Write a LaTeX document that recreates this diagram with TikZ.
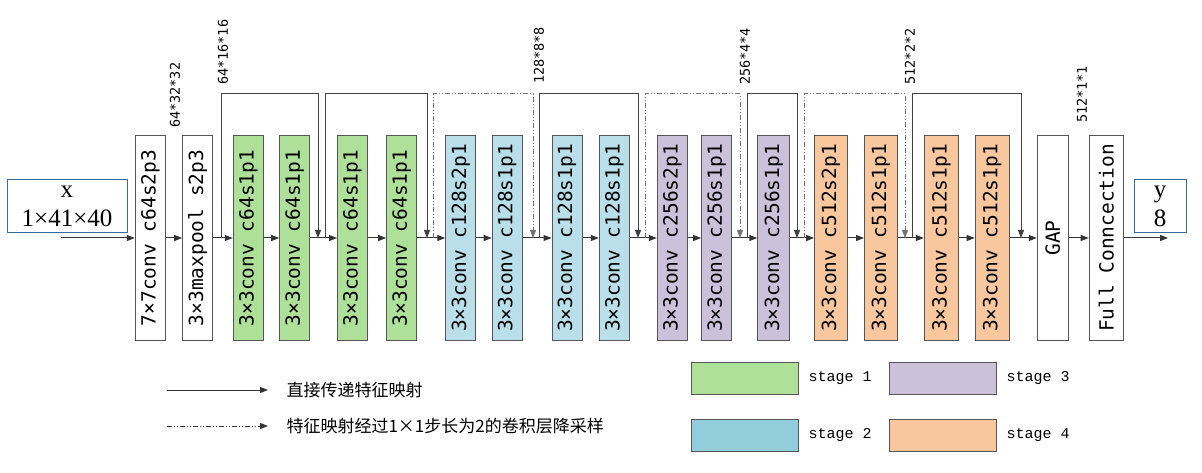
\documentclass[tikz,border=0pt]{standalone}
\usepackage{fontspec}
\setmainfont{Liberation Serif}
\newfontfamily\monobox{DejaVu Sans Mono}
\newfontfamily\monoleg{Liberation Mono}
\newfontfamily\cjk{Noto Sans CJK SC}
\usepackage{graphicx}
\usepackage{tikz}
\usetikzlibrary{calc,positioning,arrows.meta}
\usepackage{xcolor}
\definecolor{verde}{RGB}{174,224,154}
\definecolor{celeste}{RGB}{185,224,234}
\definecolor{celesteleg}{RGB}{146,205,220}
\definecolor{lila}{RGB}{204,193,219}
\definecolor{naranja}{RGB}{248,199,158}
\definecolor{borde}{RGB}{85,85,85}
\definecolor{azulio}{RGB}{58,105,155}
\newcommand{\vtxt}[1]{\rotatebox{90}{#1}}

\begin{document}
\begin{tikzpicture}[x=1pt,y=-1pt,
  capa/.style={draw=borde, line width=1pt, minimum width=30pt, minimum height=204pt,
    inner sep=0pt, font=\monobox\fontsize{19.5}{21}\selectfont},
  dim/.style={anchor=south, inner sep=0pt, font=\monobox\fontsize{13.5}{15}\selectfont},
  flecha/.style={-{Triangle[length=8pt,width=6pt]}, line width=1pt, black!80},
  atajo/.style={flecha, black!75},
  atajop/.style={flecha, black!55, dash pattern=on 5pt off 2pt on 1pt off 2pt on 1pt off 2pt},
  io/.style={draw=azulio, line width=1pt, inner sep=0pt, align=center,
    font=\fontsize{25}{29}\selectfont},
  caja/.style={draw=borde, line width=1pt, minimum width=107pt, minimum height=32pt}]
\useasboundingbox (0,0) rectangle (1202,473);

%====================================================
% ENTRADA Y SALIDA
%====================================================
\node[io, minimum width=120pt, minimum height=53pt] (entrada) at (67,206) {x\\1×41×40};
\node[io, minimum width=52pt, minimum height=53pt] (salida) at (1160,206) {y\\8};
\coordinate (xin) at (61,238);
\coordinate (yout) at (1168,238);

%====================================================
% CAPAS
%====================================================
\node[capa] (c7) at (150.3,238) {\vtxt{7×7conv c64s2p3}};
\node[capa] (mp) at (197.7,238) {\vtxt{3×3maxpool s2p3}};
\node[capa, fill=verde] (s1a) at (248.3,238) {\vtxt{3×3conv c64s1p1}};
\node[capa, fill=verde] (s1b) at (294.7,238) {\vtxt{3×3conv c64s1p1}};
\node[capa, fill=verde] (s1c) at (352.5,238) {\vtxt{3×3conv c64s1p1}};
\node[capa, fill=verde] (s1d) at (401.7,238) {\vtxt{3×3conv c64s1p1}};
\node[capa, fill=celeste] (s2a) at (460.8,238) {\vtxt{3×3conv c128s2p1}};
\node[capa, fill=celeste] (s2b) at (507.2,238) {\vtxt{3×3conv c128s1p1}};
\node[capa, fill=celeste] (s2c) at (567,238) {\vtxt{3×3conv c128s1p1}};
\node[capa, fill=celeste] (s2d) at (614.3,238) {\vtxt{3×3conv c128s1p1}};
\node[capa, fill=lila] (s3a) at (672.3,238) {\vtxt{3×3conv c256s2p1}};
\node[capa, fill=lila] (s3b) at (716.7,238) {\vtxt{3×3conv c256s1p1}};
\node[capa, fill=lila, minimum width=32pt] (s3c) at (773.8,238) {\vtxt{3×3conv c256s1p1}};
\node[capa, fill=naranja, minimum width=33pt] (s4a) at (831,238) {\vtxt{3×3conv c512s2p1}};
\node[capa, fill=naranja, minimum width=33pt] (s4b) at (881,238) {\vtxt{3×3conv c512s1p1}};
\node[capa, fill=naranja, minimum width=34pt] (s4c) at (941.3,238) {\vtxt{3×3conv c512s1p1}};
\node[capa, fill=naranja, minimum width=34pt] (s4d) at (992.2,238) {\vtxt{3×3conv c512s1p1}};
\node[capa, minimum width=31pt] (gap) at (1052.8,238) {\vtxt{GAP}};
\node[capa, minimum width=34pt] (fc) at (1106.2,238) {\vtxt{Full Conncection}};

% dimensiones
\node[dim] (d1) at (175,128) {\vtxt{64*32*32}};
\node[dim] (d2) at (223,85) {\vtxt{64*16*16}};
\node[dim] (d3) at (539,84) {\vtxt{128*8*8}};
\node[dim] (d4) at (745,85) {\vtxt{256*4*4}};
\node[dim] (d5) at (910,85) {\vtxt{512*2*2}};
\node[dim] (d6) at (1082,123) {\vtxt{512*1*1}};

%====================================================
% FLUJO PRINCIPAL
%====================================================
\draw[flecha] (xin) -- (c7.west);
\foreach \a/\b in {c7/mp, mp/s1a, s1a/s1b, s1b/s1c, s1c/s1d, s1d/s2a, s2a/s2b, s2b/s2c,
  s2c/s2d, s2d/s3a, s3a/s3b, s3b/s3c, s3c/s4a, s4a/s4b, s4b/s4c, s4c/s4d, s4d/gap, gap/fc}
  \draw[flecha] (\a.east) -- (\b.west);
\draw[flecha] (fc.east) -- (yout);

%====================================================
% CONEXIONES RESIDUALES
%====================================================
\coordinate (alto) at (0,94);
\coordinate (r1a) at (221,238);  \coordinate (r1b) at (318,238);
\coordinate (r2a) at (325,238);  \coordinate (r2b) at (427,238);
\coordinate (r3a) at (433,238);  \coordinate (r3b) at (533,238);
\coordinate (r4a) at (539,238);  \coordinate (r4b) at (638,238);
\coordinate (r5a) at (645,238);  \coordinate (r5b) at (740,238);
\coordinate (r6a) at (747,238);  \coordinate (r6b) at (797,238);
\coordinate (r7a) at (804,238);  \coordinate (r7b) at (905,238);
\coordinate (r8a) at (912,238);  \coordinate (r8b) at (1021,238);
\draw[atajo] (r1a) |- (r1b |- alto) -- (r1b);
\draw[atajo] (r2a) |- (r2b |- alto) -- (r2b);
\draw[atajop] (r3a) |- (r3b |- alto) -- (r3b);
\draw[atajo] (r4a) |- (r4b |- alto) -- (r4b);
\draw[atajop] (r5a) |- (r5b |- alto) -- (r5b);
\draw[atajo] (r6a) |- (r6b |- alto) -- (r6b);
\draw[atajop] (r7a) |- (r7b |- alto) -- (r7b);
\draw[atajo] (r8a) |- (r8b |- alto) -- (r8b);

%====================================================
% LEYENDA
%====================================================
\coordinate (lg1a) at (167,390);  \coordinate (lg1b) at (268,390);
\coordinate (lg2a) at (167,426);  \coordinate (lg2b) at (268,426);
\draw[flecha] (lg1a) -- (lg1b);
\draw[atajop, black!80] (lg2a) -- (lg2b);
\node[anchor=west, font=\cjk\fontsize{17}{19}\selectfont] (t1) at (283,390) {直接传递特征映射};
\node[anchor=west, font=\cjk\fontsize{17}{19}\selectfont] (t2) at (283,426) {特征映射经过1×1步长为2的卷积层降采样};

\node[caja, fill=verde] (k1) at (745.3,378.2) {};
\node[caja, fill=lila] (k3) at (942.7,378.2) {};
\node[caja, fill=celesteleg] (k2) at (745.3,435.5) {};
\node[caja, fill=naranja] (k4) at (942.7,435.5) {};
\node[anchor=west, font=\monoleg\fontsize{15}{17}\selectfont] (e1) at (805,378) {stage 1};
\node[anchor=west, font=\monoleg\fontsize{15}{17}\selectfont] (e3) at (1003,378) {stage 3};
\node[anchor=west, font=\monoleg\fontsize{15}{17}\selectfont] (e2) at (805,435) {stage 2};
\node[anchor=west, font=\monoleg\fontsize{15}{17}\selectfont] (e4) at (1003,435) {stage 4};
\end{tikzpicture}
\end{document}
